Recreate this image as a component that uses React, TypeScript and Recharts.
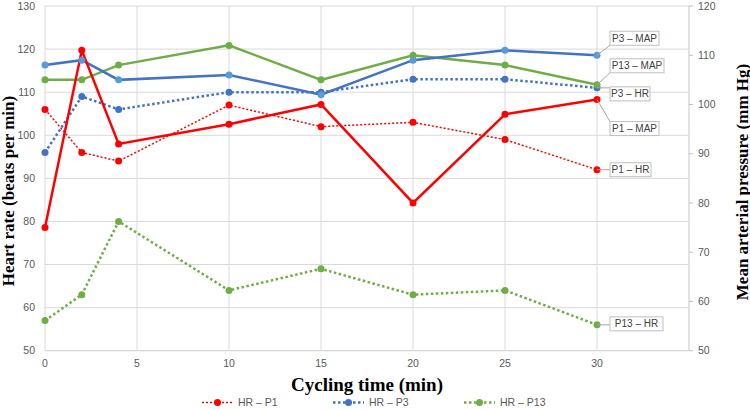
import React from 'react';
import { LineChart, Line, XAxis, YAxis, CartesianGrid, Legend, Label } from 'recharts';

const times = [0, 2, 4, 10, 15, 20, 25, 30];
const hrP1 = [106, 96, 94, 107, 102, 103, 99, 92];
const hrP3 = [96, 109, 106, 110, 110, 113, 113, 111];
const hrP13 = [57, 63, 80, 64, 69, 63, 64, 56];
const mapP1 = [75, 111, 92, 96, 100, 80, 98, 101];
const mapP3 = [108, 109, 105, 106, 102, 109, 111, 110];
const mapP13 = [105, 105, 108, 112, 105, 110, 108, 104];

const xTicks = [0, 5, 10, 15, 20, 25, 30];
const leftTicks = [50, 60, 70, 80, 90, 100, 110, 120, 130];
const rightTicks = [50, 60, 70, 80, 90, 100, 110, 120];

const data = times.map((t, i) => ({
  t,
  hrP1: hrP1[i],
  hrP3: hrP3[i],
  hrP13: hrP13[i],
  mapP1: mapP1[i],
  mapP3: mapP3[i],
  mapP13: mapP13[i],
}));

const RED = '#FF0000';
const BLUE = '#4472C4';
const LBLUE = '#5B9BD5';
const GREEN = '#70AD47';
const GRID = '#D9D9D9';
const TXT = '#595959';
const SANS = 'Liberation Sans, Arial, sans-serif';
const SERIF = 'Liberation Serif, Times New Roman, serif';

type S = {
  key: string;
  name: string;
  axis: string;
  color: string;
  dotColor: string;
  width: number;
  dash?: string;
  tag: string;
  boxDy: number;
  boxW: number;
};

const series: S[] = [
  { key: 'hrP13', name: 'HR – P13', axis: 'left', color: GREEN, dotColor: GREEN, width: 2.5, dash: '2.5 2.5', tag: 'P13 – HR', boxDy: -8, boxW: 53 },
  { key: 'hrP3', name: 'HR – P3', axis: 'left', color: BLUE, dotColor: BLUE, width: 2.5, dash: '2.5 2.5', tag: 'P3 – HR', boxDy: -1, boxW: 40 },
  { key: 'hrP1', name: 'HR – P1', axis: 'left', color: RED, dotColor: RED, width: 1.5, dash: '2 2', tag: 'P1 – HR', boxDy: -7, boxW: 41 },
  { key: 'mapP13', name: 'MAP – P13', axis: 'right', color: GREEN, dotColor: GREEN, width: 2.5, tag: 'P13 – MAP', boxDy: -26, boxW: 54 },
  { key: 'mapP3', name: 'MAP – P3', axis: 'right', color: BLUE, dotColor: LBLUE, width: 2.5, tag: 'P3 – MAP', boxDy: -24, boxW: 49 },
  { key: 'mapP1', name: 'MAP – P1', axis: 'right', color: RED, dotColor: RED, width: 2.5, tag: 'P1 – MAP', boxDy: 22, boxW: 49 },
];

const legendKeys = ['hrP1', 'hrP3', 'hrP13'];

const makeTag = (s: S) => (props: any) => {
  const { x, y, index } = props;
  if (index !== times.length - 1 || x == null || y == null) return <g />;
  const bx = x + 13;
  const by = y + s.boxDy;
  const h = 14;
  const ly = Math.min(Math.max(y, by), by + h);
  return (
    <g>
      <line x1={x} y1={y} x2={bx} y2={ly} stroke="#A6A6A6" strokeWidth={1} />
      <rect x={bx} y={by} width={s.boxW} height={h} fill="#FFFFFF" stroke="#BFBFBF" strokeWidth={1} />
      <text x={bx + s.boxW / 2} y={by + h / 2} textAnchor="middle" dominantBaseline="central" fontFamily={SANS} fontSize={10} fill="#404040">
        {s.tag}
      </text>
    </g>
  );
};

const LegendContent = (props: any) => {
  const items = (props.payload || []).filter((p: any) => legendKeys.includes(p.dataKey));
  items.sort((a: any, b: any) => legendKeys.indexOf(a.dataKey) - legendKeys.indexOf(b.dataKey));
  return (
    <div style={{ display: 'flex', paddingLeft: 202, height: 13 }}>
      {items.map((p: any) => {
        const s = series.find((q) => q.key === p.dataKey)!;
        return (
          <div key={p.dataKey} style={{ width: 131, height: 13, display: 'flex', alignItems: 'center' }}>
            <svg width={31} height={13} style={{ display: 'block' }}>
              <line x1={0} y1={6.5} x2={31} y2={6.5} stroke={s.color} strokeWidth={s.width} strokeDasharray={s.dash} />
              <circle cx={15.5} cy={6.5} r={3.5} fill={s.dotColor} />
            </svg>
            <span style={{ marginLeft: 5, fontFamily: SANS, fontSize: 10.5, color: TXT, lineHeight: '13px' }}>{p.value}</span>
          </div>
        );
      })}
    </div>
  );
};

const tickStyle = { fontFamily: SANS, fontSize: 10.5, fill: TXT };

export default function App() {
  return (
    <div style={{ position: 'absolute', left: 0, top: 0, width: 750, height: 410, background: '#FFFFFF' }}>
      <LineChart width={750} height={410} data={data} margin={{ top: 6, right: 0, bottom: 29.3, left: 0 }}>
        <CartesianGrid yAxisId="left" stroke={GRID} strokeWidth={1} />
        <XAxis
          dataKey="t"
          type="number"
          domain={[0, 35]}
          ticks={xTicks}
          height={30}
          axisLine={{ stroke: GRID }}
          tickLine={false}
          tickSize={0}
          tickMargin={9}
          tick={tickStyle}
          interval={0}
        >
          <Label
            content={(p: any) => {
              const vb = p.viewBox;
              return (
                <text x={vb.x + vb.width / 2} y={vb.y + 40.5} textAnchor="middle" fontFamily={SERIF} fontWeight="bold" fontSize={19} fill="#000">
                  Cycling time (min)
                </text>
              );
            }}
          />
        </XAxis>
        <YAxis
          yAxisId="left"
          domain={[50, 130]}
          ticks={leftTicks}
          width={45}
          axisLine={false}
          tickLine={false}
          tickSize={0}
          tickMargin={10}
          tick={tickStyle}
          interval={0}
        >
          <Label
            content={() => (
              <text x={8} y={191} transform="rotate(-90, 8, 191)" textAnchor="middle" dominantBaseline="central" fontFamily={SERIF} fontWeight="bold" fontSize={17} fill="#000">
                Heart rate (beats per min)
              </text>
            )}
          />
        </YAxis>
        <YAxis
          yAxisId="right"
          orientation="right"
          domain={[50, 120]}
          ticks={rightTicks}
          width={61}
          axisLine={{ stroke: GRID }}
          tickLine={{ stroke: '#BFBFBF' }}
          tickSize={4}
          tickMargin={5}
          tick={tickStyle}
          interval={0}
        >
          <Label
            content={(p: any) => {
              const cx = p.viewBox.x + 53;
              return (
                <text x={cx} y={182} transform={`rotate(-90, ${cx}, 182)`} textAnchor="middle" dominantBaseline="central" fontFamily={SERIF} fontWeight="bold" fontSize={17} fill="#000">
                  Mean arterial pressure (mm Hg)
                </text>
              );
            }}
          />
        </YAxis>
        <Legend verticalAlign="middle" align="center" wrapperStyle={{ top: 396, left: 0, width: 750, height: 13 }} content={<LegendContent />} />
        {series.map((s) => (
          <Line
            key={s.key}
            yAxisId={s.axis}
            dataKey={s.key}
            name={s.name}
            type="linear"
            stroke={s.color}
            strokeWidth={s.width}
            strokeDasharray={s.dash}
            dot={{ r: 3.5, fill: s.dotColor, stroke: s.dotColor, strokeWidth: 0 }}
            activeDot={false}
            isAnimationActive={false}
            label={makeTag(s)}
          />
        ))}
      </LineChart>
    </div>
  );
}
